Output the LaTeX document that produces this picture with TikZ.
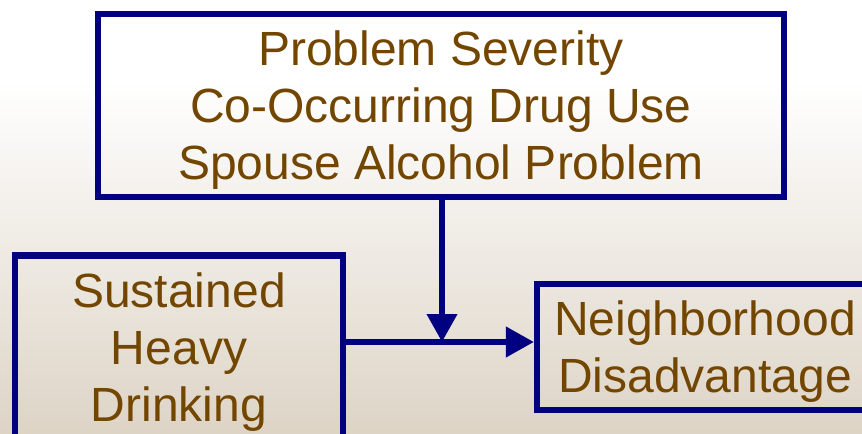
\documentclass[tikz,border=0pt]{standalone}
\usepackage{fontspec}
\setmainfont{Liberation Sans}
\usepackage{tikz}
\usetikzlibrary{arrows.meta, positioning}

\definecolor{boxnavy}{RGB}{0,0,128}
\definecolor{txtbrown}{RGB}{115,70,0}
\definecolor{bgbeige}{RGB}{221,212,198}

\begin{document}
\begin{tikzpicture}[
    x=0.75pt, y=-0.75pt,
    block/.style={
        rectangle,
        draw=boxnavy, line width=4.6pt,
        text=txtbrown,
        align=center,
        inner sep=0pt,
        text depth=0pt,
        font=\fontsize{36}{42.75}\selectfont
    },
    arrow/.style={-{Triangle[length=21pt, width=22pt]}, line width=4.5pt, boxnavy}
]

% background
\useasboundingbox (0,0) rectangle (862,434);
\clip (0,0) rectangle (862,434);
\fill[white] (0,0) rectangle (862,80);
\shade[top color=white, bottom color=bgbeige] (0,80) rectangle (862,434);

\node[block, minimum width=514.5pt, minimum height=137.25pt] (problems) at (441,105.5)
    {Problem Severity\\Co-Occurring Drug Use\\Spouse Alcohol Problem};
\node[block, minimum width=246pt, minimum height=137.25pt] (sustained) at (179,347)
    {Sustained\\Heavy\\Drinking};
\node[block, minimum width=252pt, minimum height=95pt] (nbhd) at (705,347)
    {Neighborhood\\Disadvantage};

\coordinate (meet) at (442,342);

\draw[arrow] (sustained.east |- meet) -- (nbhd.west |- meet);
\draw[arrow] (problems.south -| meet) -- (meet);

\end{tikzpicture}
\end{document}
